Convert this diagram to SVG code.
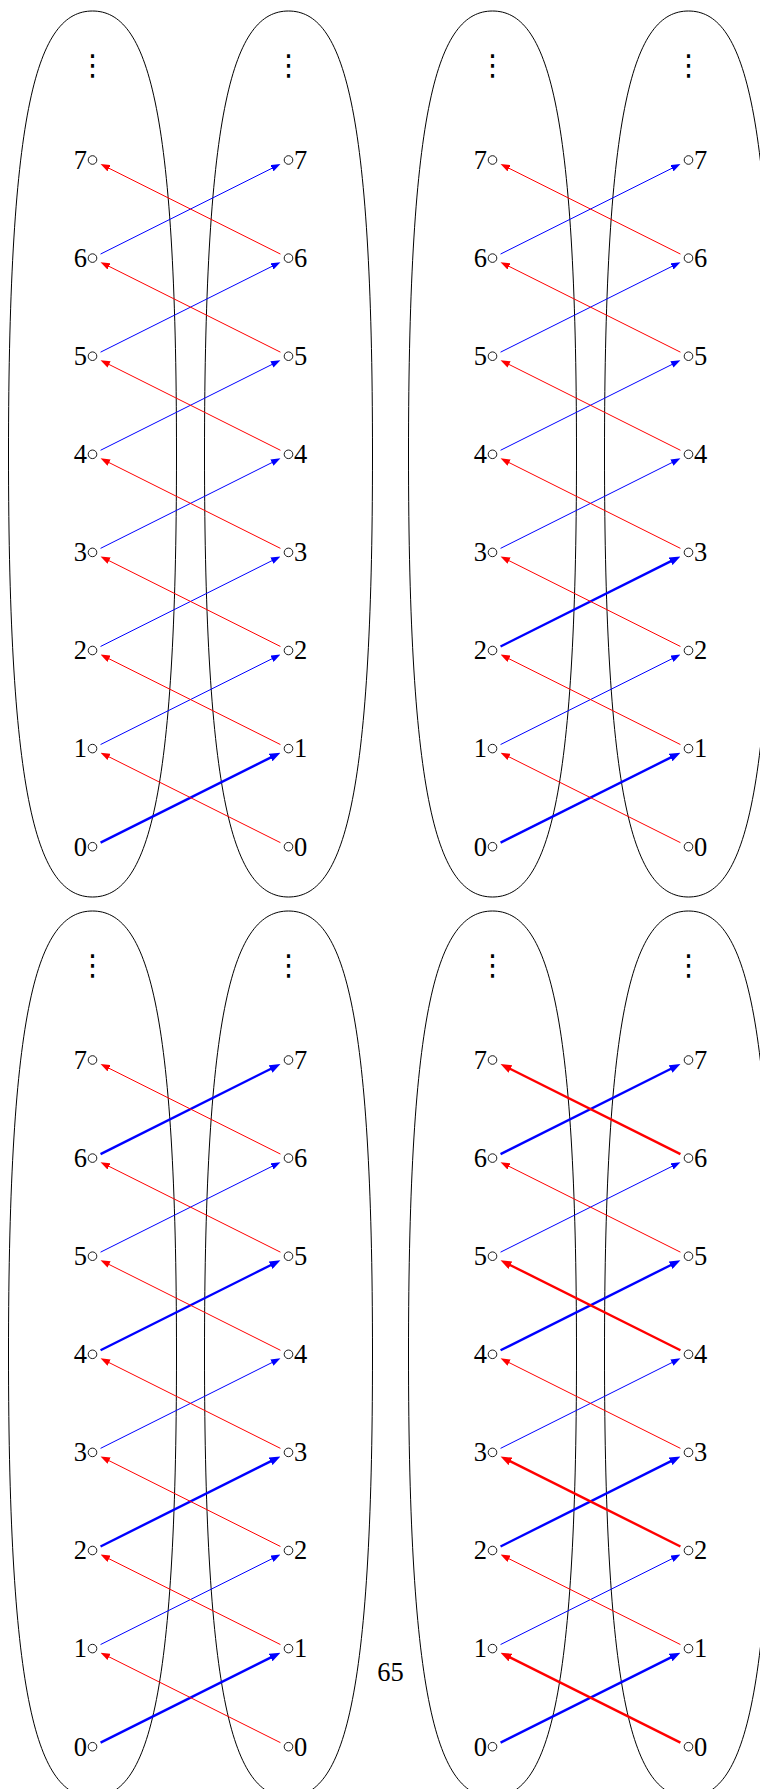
<svg xmlns="http://www.w3.org/2000/svg" width="760" height="1789" viewBox="0 0 760 1789">
<style>
.bg{fill:#ffffff}
.ell{fill:none;stroke:#000;stroke-width:1}
.nc{fill:#fff;stroke:#000;stroke-width:0.9}
.lab{font-family:"Liberation Serif","Times New Roman",serif;font-size:26.5px;fill:#000}
.l{text-anchor:end}
.r{text-anchor:start}
.dots{font-family:"DejaVu Sans",sans-serif;font-size:29px;fill:#000;text-anchor:middle}
.b{stroke:#0000ff;stroke-width:1;fill:none;marker-end:url(#ah-b)}
.r1{stroke:#ff0000;stroke-width:1;fill:none;marker-end:url(#ah-r)}
.bt{stroke:#0000ff;stroke-width:2.4;fill:none;marker-end:url(#ah-bt)}
.rt{stroke:#ff0000;stroke-width:2.4;fill:none;marker-end:url(#ah-rt)}
.pg{font-family:"Liberation Serif","Times New Roman",serif;font-size:26.5px;fill:#000;text-anchor:middle}
</style>
<defs>
<marker id="ah-b" viewBox="0 0 9.5 7" refX="1" refY="3.5" markerWidth="9.5" markerHeight="7" markerUnits="userSpaceOnUse" orient="auto"><path d="M0,0 L9.5,3.5 L0,7 Z" fill="#0000ff"/></marker>
<marker id="ah-r" viewBox="0 0 9.5 7" refX="1" refY="3.5" markerWidth="9.5" markerHeight="7" markerUnits="userSpaceOnUse" orient="auto"><path d="M0,0 L9.5,3.5 L0,7 Z" fill="#ff0000"/></marker>
<marker id="ah-bt" viewBox="0 0 11 8.4" refX="1" refY="4.2" markerWidth="11" markerHeight="8.4" markerUnits="userSpaceOnUse" orient="auto"><path d="M0,0 L11,4.2 L0,8.4 Z" fill="#0000ff"/></marker>
<marker id="ah-rt" viewBox="0 0 11 8.4" refX="1" refY="4.2" markerWidth="11" markerHeight="8.4" markerUnits="userSpaceOnUse" orient="auto"><path d="M0,0 L11,4.2 L0,8.4 Z" fill="#ff0000"/></marker>
<path id="ellL" d="M92.5,11 C147.5,11 176.5,106 176.5,454 C176.5,802 147.5,897 92.5,897 C37.5,897 8.5,802 8.5,454 C8.5,106 37.5,11 92.5,11 Z"/>
<path id="ellR" d="M288.5,11 C343.5,11 372.5,106 372.5,454 C372.5,802 343.5,897 288.5,897 C233.5,897 204.5,802 204.5,454 C204.5,106 233.5,11 288.5,11 Z"/>
</defs>
<rect class="bg" x="0" y="0" width="760" height="1789"/>

<!-- Panel 1 -->
<g id="panel1">
<g id="p1-sets"><use href="#ellL" class="ell"/><use href="#ellR" class="ell"/>
<text class="dots" x="92.5" y="75">⋮</text><text class="dots" x="288.5" y="75">⋮</text></g>
<g id="p1-connectors">
<line class="bt" x1="100.55" y1="842.67" x2="271.51" y2="757.11"/>
<line class="b" x1="100.55" y1="744.57" x2="272.85" y2="658.33"/>
<line class="b" x1="100.55" y1="646.47" x2="272.85" y2="560.23"/>
<line class="b" x1="100.55" y1="548.37" x2="272.85" y2="462.13"/>
<line class="b" x1="100.55" y1="450.27" x2="272.85" y2="364.03"/>
<line class="b" x1="100.55" y1="352.17" x2="272.85" y2="265.93"/>
<line class="b" x1="100.55" y1="254.07" x2="272.85" y2="167.83"/>
<line class="r1" x1="280.45" y1="842.67" x2="108.15" y2="756.43"/>
<line class="r1" x1="280.45" y1="744.57" x2="108.15" y2="658.33"/>
<line class="r1" x1="280.45" y1="646.47" x2="108.15" y2="560.23"/>
<line class="r1" x1="280.45" y1="548.37" x2="108.15" y2="462.13"/>
<line class="r1" x1="280.45" y1="450.27" x2="108.15" y2="364.03"/>
<line class="r1" x1="280.45" y1="352.17" x2="108.15" y2="265.93"/>
<line class="r1" x1="280.45" y1="254.07" x2="108.15" y2="167.83"/>
</g>
<g id="p1-L0"><circle class="nc" cx="92.5" cy="846.7" r="4.3"/><text class="lab l" x="87" y="855.5">0</text></g>
<g id="p1-L1"><circle class="nc" cx="92.5" cy="748.6" r="4.3"/><text class="lab l" x="87" y="757.4">1</text></g>
<g id="p1-L2"><circle class="nc" cx="92.5" cy="650.5" r="4.3"/><text class="lab l" x="87" y="659.3">2</text></g>
<g id="p1-L3"><circle class="nc" cx="92.5" cy="552.4" r="4.3"/><text class="lab l" x="87" y="561.2">3</text></g>
<g id="p1-L4"><circle class="nc" cx="92.5" cy="454.3" r="4.3"/><text class="lab l" x="87" y="463.1">4</text></g>
<g id="p1-L5"><circle class="nc" cx="92.5" cy="356.2" r="4.3"/><text class="lab l" x="87" y="365">5</text></g>
<g id="p1-L6"><circle class="nc" cx="92.5" cy="258.1" r="4.3"/><text class="lab l" x="87" y="266.9">6</text></g>
<g id="p1-L7"><circle class="nc" cx="92.5" cy="160" r="4.3"/><text class="lab l" x="87" y="168.8">7</text></g>
<g id="p1-R0"><circle class="nc" cx="288.5" cy="846.7" r="4.3"/><text class="lab r" x="294" y="855.5">0</text></g>
<g id="p1-R1"><circle class="nc" cx="288.5" cy="748.6" r="4.3"/><text class="lab r" x="294" y="757.4">1</text></g>
<g id="p1-R2"><circle class="nc" cx="288.5" cy="650.5" r="4.3"/><text class="lab r" x="294" y="659.3">2</text></g>
<g id="p1-R3"><circle class="nc" cx="288.5" cy="552.4" r="4.3"/><text class="lab r" x="294" y="561.2">3</text></g>
<g id="p1-R4"><circle class="nc" cx="288.5" cy="454.3" r="4.3"/><text class="lab r" x="294" y="463.1">4</text></g>
<g id="p1-R5"><circle class="nc" cx="288.5" cy="356.2" r="4.3"/><text class="lab r" x="294" y="365">5</text></g>
<g id="p1-R6"><circle class="nc" cx="288.5" cy="258.1" r="4.3"/><text class="lab r" x="294" y="266.9">6</text></g>
<g id="p1-R7"><circle class="nc" cx="288.5" cy="160" r="4.3"/><text class="lab r" x="294" y="168.8">7</text></g>
</g>

<!-- Panel 2 -->
<g id="panel2" transform="translate(400,0)">
<g id="p2-sets"><use href="#ellL" class="ell"/><use href="#ellR" class="ell"/>
<text class="dots" x="92.5" y="75">⋮</text><text class="dots" x="288.5" y="75">⋮</text></g>
<g id="p2-connectors">
<line class="bt" x1="100.55" y1="842.67" x2="271.51" y2="757.11"/>
<line class="b" x1="100.55" y1="744.57" x2="272.85" y2="658.33"/>
<line class="bt" x1="100.55" y1="646.47" x2="271.51" y2="560.91"/>
<line class="b" x1="100.55" y1="548.37" x2="272.85" y2="462.13"/>
<line class="b" x1="100.55" y1="450.27" x2="272.85" y2="364.03"/>
<line class="b" x1="100.55" y1="352.17" x2="272.85" y2="265.93"/>
<line class="b" x1="100.55" y1="254.07" x2="272.85" y2="167.83"/>
<line class="r1" x1="280.45" y1="842.67" x2="108.15" y2="756.43"/>
<line class="r1" x1="280.45" y1="744.57" x2="108.15" y2="658.33"/>
<line class="r1" x1="280.45" y1="646.47" x2="108.15" y2="560.23"/>
<line class="r1" x1="280.45" y1="548.37" x2="108.15" y2="462.13"/>
<line class="r1" x1="280.45" y1="450.27" x2="108.15" y2="364.03"/>
<line class="r1" x1="280.45" y1="352.17" x2="108.15" y2="265.93"/>
<line class="r1" x1="280.45" y1="254.07" x2="108.15" y2="167.83"/>
</g>
<g id="p2-L0"><circle class="nc" cx="92.5" cy="846.7" r="4.3"/><text class="lab l" x="87" y="855.5">0</text></g>
<g id="p2-L1"><circle class="nc" cx="92.5" cy="748.6" r="4.3"/><text class="lab l" x="87" y="757.4">1</text></g>
<g id="p2-L2"><circle class="nc" cx="92.5" cy="650.5" r="4.3"/><text class="lab l" x="87" y="659.3">2</text></g>
<g id="p2-L3"><circle class="nc" cx="92.5" cy="552.4" r="4.3"/><text class="lab l" x="87" y="561.2">3</text></g>
<g id="p2-L4"><circle class="nc" cx="92.5" cy="454.3" r="4.3"/><text class="lab l" x="87" y="463.1">4</text></g>
<g id="p2-L5"><circle class="nc" cx="92.5" cy="356.2" r="4.3"/><text class="lab l" x="87" y="365">5</text></g>
<g id="p2-L6"><circle class="nc" cx="92.5" cy="258.1" r="4.3"/><text class="lab l" x="87" y="266.9">6</text></g>
<g id="p2-L7"><circle class="nc" cx="92.5" cy="160" r="4.3"/><text class="lab l" x="87" y="168.8">7</text></g>
<g id="p2-R0"><circle class="nc" cx="288.5" cy="846.7" r="4.3"/><text class="lab r" x="294" y="855.5">0</text></g>
<g id="p2-R1"><circle class="nc" cx="288.5" cy="748.6" r="4.3"/><text class="lab r" x="294" y="757.4">1</text></g>
<g id="p2-R2"><circle class="nc" cx="288.5" cy="650.5" r="4.3"/><text class="lab r" x="294" y="659.3">2</text></g>
<g id="p2-R3"><circle class="nc" cx="288.5" cy="552.4" r="4.3"/><text class="lab r" x="294" y="561.2">3</text></g>
<g id="p2-R4"><circle class="nc" cx="288.5" cy="454.3" r="4.3"/><text class="lab r" x="294" y="463.1">4</text></g>
<g id="p2-R5"><circle class="nc" cx="288.5" cy="356.2" r="4.3"/><text class="lab r" x="294" y="365">5</text></g>
<g id="p2-R6"><circle class="nc" cx="288.5" cy="258.1" r="4.3"/><text class="lab r" x="294" y="266.9">6</text></g>
<g id="p2-R7"><circle class="nc" cx="288.5" cy="160" r="4.3"/><text class="lab r" x="294" y="168.8">7</text></g>
</g>

<!-- Panel 3 -->
<g id="panel3" transform="translate(0,900)">
<g id="p3-sets"><use href="#ellL" class="ell"/><use href="#ellR" class="ell"/>
<text class="dots" x="92.5" y="75">⋮</text><text class="dots" x="288.5" y="75">⋮</text></g>
<g id="p3-connectors">
<line class="bt" x1="100.55" y1="842.67" x2="271.51" y2="757.11"/>
<line class="b" x1="100.55" y1="744.57" x2="272.85" y2="658.33"/>
<line class="bt" x1="100.55" y1="646.47" x2="271.51" y2="560.91"/>
<line class="b" x1="100.55" y1="548.37" x2="272.85" y2="462.13"/>
<line class="bt" x1="100.55" y1="450.27" x2="271.51" y2="364.71"/>
<line class="b" x1="100.55" y1="352.17" x2="272.85" y2="265.93"/>
<line class="bt" x1="100.55" y1="254.07" x2="271.51" y2="168.51"/>
<line class="r1" x1="280.45" y1="842.67" x2="108.15" y2="756.43"/>
<line class="r1" x1="280.45" y1="744.57" x2="108.15" y2="658.33"/>
<line class="r1" x1="280.45" y1="646.47" x2="108.15" y2="560.23"/>
<line class="r1" x1="280.45" y1="548.37" x2="108.15" y2="462.13"/>
<line class="r1" x1="280.45" y1="450.27" x2="108.15" y2="364.03"/>
<line class="r1" x1="280.45" y1="352.17" x2="108.15" y2="265.93"/>
<line class="r1" x1="280.45" y1="254.07" x2="108.15" y2="167.83"/>
</g>
<g id="p3-L0"><circle class="nc" cx="92.5" cy="846.7" r="4.3"/><text class="lab l" x="87" y="855.5">0</text></g>
<g id="p3-L1"><circle class="nc" cx="92.5" cy="748.6" r="4.3"/><text class="lab l" x="87" y="757.4">1</text></g>
<g id="p3-L2"><circle class="nc" cx="92.5" cy="650.5" r="4.3"/><text class="lab l" x="87" y="659.3">2</text></g>
<g id="p3-L3"><circle class="nc" cx="92.5" cy="552.4" r="4.3"/><text class="lab l" x="87" y="561.2">3</text></g>
<g id="p3-L4"><circle class="nc" cx="92.5" cy="454.3" r="4.3"/><text class="lab l" x="87" y="463.1">4</text></g>
<g id="p3-L5"><circle class="nc" cx="92.5" cy="356.2" r="4.3"/><text class="lab l" x="87" y="365">5</text></g>
<g id="p3-L6"><circle class="nc" cx="92.5" cy="258.1" r="4.3"/><text class="lab l" x="87" y="266.9">6</text></g>
<g id="p3-L7"><circle class="nc" cx="92.5" cy="160" r="4.3"/><text class="lab l" x="87" y="168.8">7</text></g>
<g id="p3-R0"><circle class="nc" cx="288.5" cy="846.7" r="4.3"/><text class="lab r" x="294" y="855.5">0</text></g>
<g id="p3-R1"><circle class="nc" cx="288.5" cy="748.6" r="4.3"/><text class="lab r" x="294" y="757.4">1</text></g>
<g id="p3-R2"><circle class="nc" cx="288.5" cy="650.5" r="4.3"/><text class="lab r" x="294" y="659.3">2</text></g>
<g id="p3-R3"><circle class="nc" cx="288.5" cy="552.4" r="4.3"/><text class="lab r" x="294" y="561.2">3</text></g>
<g id="p3-R4"><circle class="nc" cx="288.5" cy="454.3" r="4.3"/><text class="lab r" x="294" y="463.1">4</text></g>
<g id="p3-R5"><circle class="nc" cx="288.5" cy="356.2" r="4.3"/><text class="lab r" x="294" y="365">5</text></g>
<g id="p3-R6"><circle class="nc" cx="288.5" cy="258.1" r="4.3"/><text class="lab r" x="294" y="266.9">6</text></g>
<g id="p3-R7"><circle class="nc" cx="288.5" cy="160" r="4.3"/><text class="lab r" x="294" y="168.8">7</text></g>
</g>

<!-- Panel 4 -->
<g id="panel4" transform="translate(400,900)">
<g id="p4-sets"><use href="#ellL" class="ell"/><use href="#ellR" class="ell"/>
<text class="dots" x="92.5" y="75">⋮</text><text class="dots" x="288.5" y="75">⋮</text></g>
<g id="p4-connectors">
<line class="bt" x1="100.55" y1="842.67" x2="271.51" y2="757.11"/>
<line class="b" x1="100.55" y1="744.57" x2="272.85" y2="658.33"/>
<line class="bt" x1="100.55" y1="646.47" x2="271.51" y2="560.91"/>
<line class="b" x1="100.55" y1="548.37" x2="272.85" y2="462.13"/>
<line class="bt" x1="100.55" y1="450.27" x2="271.51" y2="364.71"/>
<line class="b" x1="100.55" y1="352.17" x2="272.85" y2="265.93"/>
<line class="bt" x1="100.55" y1="254.07" x2="271.51" y2="168.51"/>
<line class="rt" x1="280.45" y1="842.67" x2="109.49" y2="757.11"/>
<line class="r1" x1="280.45" y1="744.57" x2="108.15" y2="658.33"/>
<line class="rt" x1="280.45" y1="646.47" x2="109.49" y2="560.91"/>
<line class="r1" x1="280.45" y1="548.37" x2="108.15" y2="462.13"/>
<line class="rt" x1="280.45" y1="450.27" x2="109.49" y2="364.71"/>
<line class="r1" x1="280.45" y1="352.17" x2="108.15" y2="265.93"/>
<line class="rt" x1="280.45" y1="254.07" x2="109.49" y2="168.51"/>
</g>
<g id="p4-L0"><circle class="nc" cx="92.5" cy="846.7" r="4.3"/><text class="lab l" x="87" y="855.5">0</text></g>
<g id="p4-L1"><circle class="nc" cx="92.5" cy="748.6" r="4.3"/><text class="lab l" x="87" y="757.4">1</text></g>
<g id="p4-L2"><circle class="nc" cx="92.5" cy="650.5" r="4.3"/><text class="lab l" x="87" y="659.3">2</text></g>
<g id="p4-L3"><circle class="nc" cx="92.5" cy="552.4" r="4.3"/><text class="lab l" x="87" y="561.2">3</text></g>
<g id="p4-L4"><circle class="nc" cx="92.5" cy="454.3" r="4.3"/><text class="lab l" x="87" y="463.1">4</text></g>
<g id="p4-L5"><circle class="nc" cx="92.5" cy="356.2" r="4.3"/><text class="lab l" x="87" y="365">5</text></g>
<g id="p4-L6"><circle class="nc" cx="92.5" cy="258.1" r="4.3"/><text class="lab l" x="87" y="266.9">6</text></g>
<g id="p4-L7"><circle class="nc" cx="92.5" cy="160" r="4.3"/><text class="lab l" x="87" y="168.8">7</text></g>
<g id="p4-R0"><circle class="nc" cx="288.5" cy="846.7" r="4.3"/><text class="lab r" x="294" y="855.5">0</text></g>
<g id="p4-R1"><circle class="nc" cx="288.5" cy="748.6" r="4.3"/><text class="lab r" x="294" y="757.4">1</text></g>
<g id="p4-R2"><circle class="nc" cx="288.5" cy="650.5" r="4.3"/><text class="lab r" x="294" y="659.3">2</text></g>
<g id="p4-R3"><circle class="nc" cx="288.5" cy="552.4" r="4.3"/><text class="lab r" x="294" y="561.2">3</text></g>
<g id="p4-R4"><circle class="nc" cx="288.5" cy="454.3" r="4.3"/><text class="lab r" x="294" y="463.1">4</text></g>
<g id="p4-R5"><circle class="nc" cx="288.5" cy="356.2" r="4.3"/><text class="lab r" x="294" y="365">5</text></g>
<g id="p4-R6"><circle class="nc" cx="288.5" cy="258.1" r="4.3"/><text class="lab r" x="294" y="266.9">6</text></g>
<g id="p4-R7"><circle class="nc" cx="288.5" cy="160" r="4.3"/><text class="lab r" x="294" y="168.8">7</text></g>
</g>

<text id="page-number" class="pg" x="390.5" y="1680.5">65</text>
</svg>
